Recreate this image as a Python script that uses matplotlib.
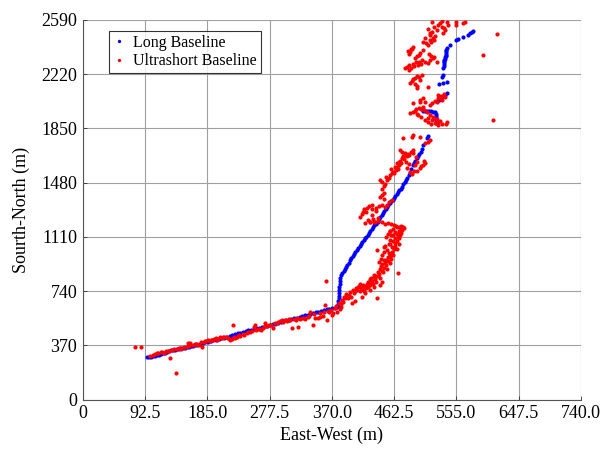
import matplotlib
matplotlib.use("Agg")
import matplotlib.pyplot as plt

plt.rcParams['font.family'] = ['Liberation Serif', 'DejaVu Serif']

# ---- Long Baseline (blue) ----
lbl_x = [95, 98, 101, 104, 107, 110, 113, 116, 119, 122, 125, 128, 131, 134, 137, 140, 143, 146, 149, 152,
         155, 158, 161, 164, 167, 170, 174, 178, 182, 186, 190, 194, 198, 202, 206, 210, 214, 218, 222, 226,
         230, 234, 238, 242, 246, 250, 254, 258, 262, 266, 270, 274, 278, 282, 286, 290, 294, 298, 302, 306,
         310, 314, 318, 322, 326, 330, 334, 338, 342, 346, 350, 354, 358, 362, 366, 370, 374, 378, 381,
         379, 379, 380, 380, 380, 381, 381, 382, 382, 382, 383, 385, 388,
         389, 391, 393, 395, 397, 399, 401, 403, 405, 407, 409, 411, 413, 415, 417, 419, 421, 423, 425, 427,
         429, 431, 433, 436, 438, 440, 442, 444, 446, 448, 450, 452, 454, 456, 458, 460, 462, 464, 466, 468,
         470, 472, 474, 476, 478, 480, 482, 484, 486, 488, 490, 492, 494, 496, 498, 500, 502, 504, 506, 511, 513,
         505, 508, 511, 514, 517, 520, 523, 524, 524, 524, 525, 525,
         526, 529, 532, 535, 538, 541,
         529, 535, 541, 533, 535,
         535, 536, 536, 537, 537, 538, 538, 539, 539, 540, 540, 541, 537, 539,
         545, 555, 557, 564, 572, 575, 578, 580]
lbl_y = [288, 291, 293, 296, 298, 302, 306, 312, 315, 318, 326, 332, 336, 340, 341, 343, 346, 349, 352, 355,
         358, 362, 365, 369, 372, 375, 380, 386, 391, 395, 400, 404, 408, 412, 417, 421, 426, 432, 439, 446,
         452, 456, 462, 467, 472, 477, 482, 487, 491, 495, 499, 504, 509, 514, 519, 525, 530, 535, 540, 545,
         550, 555, 560, 565, 570, 575, 580, 586, 590, 595, 600, 605, 610, 615, 619, 623, 628, 633, 640,
         650, 670, 690, 710, 730, 750, 770, 790, 810, 830, 850, 865, 878,
         892, 905, 920, 935, 950, 965, 980, 995, 1008, 1020, 1035, 1048, 1060, 1074, 1088, 1100, 1112, 1125, 1138, 1150,
         1162, 1175, 1188, 1200, 1215, 1232, 1248, 1262, 1275, 1288, 1300, 1312, 1326, 1340, 1352, 1364, 1376, 1388, 1400, 1414,
         1428, 1440, 1453, 1468, 1484, 1500, 1515, 1530, 1545, 1572, 1598, 1612, 1628, 1645, 1660, 1676, 1692, 1710, 1735, 1783, 1800,
         1968, 1968, 1967, 1966, 1966, 1965, 1964, 1950, 1935, 1920, 1905, 1890,
         2035, 2046, 2058, 2068, 2080, 2092,
         2154, 2160, 2167, 2201, 2215,
         2263, 2275, 2288, 2300, 2312, 2325, 2337, 2350, 2362, 2375, 2388, 2400, 2320, 2345,
         2419, 2453, 2460, 2474, 2490, 2500, 2508, 2515]

# ---- Ultrashort Baseline (red) ----
usbl_x = [78, 86, 100, 104, 108, 112, 116, 120, 124, 128, 130, 133, 136, 139, 140, 143, 146, 150, 154, 156,
          160, 163, 166, 170, 172, 175, 177, 180, 183, 186, 189, 192, 195, 198, 201, 204, 207, 210, 213, 216,
          219, 222, 224, 226, 223, 229, 234, 240, 244, 248, 252, 254, 256, 258, 262, 265, 268, 271, 274, 277,
          280, 282, 285, 290, 293, 296, 300, 303, 306, 311, 314, 318, 320, 323, 326, 330, 334, 338, 342, 345,
          349, 353, 357, 360, 363, 361, 366, 369, 372, 374, 376, 378, 380, 382, 384,
          385, 388, 391, 394, 397, 400, 402, 404, 406, 408, 410, 412, 414, 416, 418, 420, 422, 424, 426, 428,
          430, 432, 434, 436, 437, 438, 440, 442, 444, 446, 448, 450, 452, 454, 456, 458, 460, 455, 448, 445,
          452, 437, 447, 449, 455, 460, 463, 461, 466, 470, 474, 477, 472, 466, 462, 458, 454, 449, 444, 438,
          432, 426, 419, 434, 468, 466, 470, 458, 464, 469, 463, 459, 443, 440, 447, 457, 433, 428, 423, 415,
          419, 426, 441, 444, 473, 475, 471, 465, 456,
          441, 444, 447, 449, 452, 455, 459, 422, 425, 429, 412, 414, 416, 427, 439, 435, 430, 444, 448,
          441, 444, 452, 456, 460, 458, 463, 466, 469, 471, 474, 476, 479, 462, 468, 471, 474, 478, 483, 487,
          491, 489, 492, 494, 496, 501, 505, 508, 476, 489, 491, 501, 508, 512, 516, 481, 486,
          486, 491, 495, 500, 505, 498, 503, 508, 512, 517, 523, 527, 539, 541, 511, 515, 520, 526, 531,
          491, 501, 501, 506, 508, 519, 526, 527, 534, 538, 530, 486, 489, 493, 497, 496, 501, 504, 512,
          481, 485, 490, 495, 500, 504, 479, 493, 497, 501, 500, 515, 520, 522, 526, 512, 486, 489, 491, 483,
          505, 506, 510, 515, 522, 512, 515, 519, 523, 526, 519, 531, 541, 542, 534, 538, 535, 555, 567, 555,
          564, 594, 615, 609]
usbl_y = [356, 356, 300, 304, 312, 318, 322, 321, 330, 334, 283, 338, 345, 181, 348, 352, 345, 356, 362, 386,
          384, 372, 378, 382, 372, 392, 358, 395, 400, 405, 398, 410, 412, 420, 416, 424, 418, 427, 430, 422,
          410, 415, 427, 418, 508, 430, 433, 440, 452, 458, 470, 494, 510, 478, 484, 474, 490, 522, 500, 512,
          506, 488, 520, 530, 536, 540, 545, 534, 550, 488, 548, 556, 495, 552, 560, 548, 563, 597, 508, 560,
          556, 565, 572, 645, 543, 811, 600, 612, 590, 625, 640, 600, 660, 615, 630,
          679, 700, 720, 690, 734, 660, 750, 670, 760, 745, 775, 740, 700, 782, 770, 760, 790, 800, 780, 795,
          810, 770, 820, 800, 693, 840, 860, 830, 880, 870, 900, 920, 890, 945, 930, 960, 985, 1000, 1010, 990,
          1020, 1020, 1041, 1050, 1060, 1080, 1100, 1120, 1130, 1150, 1160, 1170, 1185, 1175, 1190, 1195, 1205, 1200, 1210, 1220,
          1215, 1212, 1205, 1211, 863, 1030, 1060, 1120, 1145, 1105, 1070, 1040, 960, 940, 952, 975, 850, 830, 765, 752,
          725, 745, 780, 800, 1140, 1180, 1125, 1185, 1150,
          1384, 1395, 1409, 1314, 1330, 1345, 1362, 1309, 1320, 1330, 1246, 1265, 1280, 1211, 1239, 1290, 1300, 1440, 1460,
          1498, 1484, 1495, 1532, 1553, 1570, 1590, 1614, 1600, 1630, 1648, 1660, 1669, 1545, 1575, 1703, 1690, 1680, 1675, 1690,
          1700, 1540, 1560, 1600, 1620, 1580, 1600, 1614, 1785, 1792, 1805, 1792, 1751, 1760, 1771, 1580, 1550,
          1955, 1965, 1980, 1990, 1997, 1940, 1925, 1910, 1895, 1880, 1885, 1876, 1880, 1892, 1960, 1945, 1930, 1915, 1900,
          2024, 2031, 2045, 2058, 2031, 2024, 2030, 2079, 2044, 2065, 2055, 2160, 2175, 2195, 2126, 2140, 2181, 2215, 2133,
          2270, 2283, 2290, 2300, 2304, 2317, 2263, 2331, 2345, 2365, 2351, 2317, 2330, 2338, 2300, 2297, 2372, 2390, 2406, 2380,
          2386, 2443, 2433, 2454, 2454, 2529, 2490, 2510, 2480, 2520, 2579, 2568, 2575, 2556, 2545, 2522, 2499, 2579, 2579, 2556,
          2570, 2351, 2492, 1908]

# additional USBL fixes (denser parts of the track)
usbl_extra_x = [110, 118, 126, 145, 158, 168, 182, 190, 200, 208, 215, 232, 238, 246, 260, 270, 288, 298, 308, 316,
                328, 336, 344, 352, 358, 364, 370,
                383, 386, 390, 393, 396, 399, 403, 405, 409, 411, 413, 417, 421, 425, 427, 431, 433, 435, 439, 441,
                443, 445, 449, 451, 453, 456, 459, 462, 464, 467, 468, 471, 473, 469, 460, 457, 453, 450, 456, 457,
                484, 488, 492, 498, 502, 508, 517, 514, 488, 484, 509, 516, 521, 528, 533, 537, 520, 513, 517, 494,
                490, 496, 500, 493, 497, 502, 507, 513, 518, 522, 528, 533, 515, 523, 528, 532, 536,
                449, 451, 455, 459, 465, 467, 470, 473, 477, 481, 485, 490, 495, 497, 503, 507, 480, 484, 447, 445,
                440, 436, 418, 420, 431, 424, 429]
usbl_extra_y = [315, 325, 331, 350, 366, 380, 398, 405, 410, 425, 418, 440, 450, 462, 480, 500, 525, 530, 540, 545,
                555, 570, 585, 590, 598, 605, 580,
                650, 665, 690, 705, 715, 700, 725, 740, 765, 790, 760, 740, 775, 805, 820, 790, 835, 845, 870, 890,
                910, 925, 935, 955, 970, 990, 1010, 1030, 1050, 1085, 1110, 1135, 1165, 1175, 1165, 1150, 1130, 1110, 1090, 1065,
                2250, 2260, 2275, 2285, 2292, 2305, 2345, 2355, 2395, 2360, 2470, 2500, 2540, 2555, 2580, 2535, 2470, 2420, 2440, 2150,
                2185, 2205, 2200, 1970, 1950, 1985, 1975, 1920, 1905, 1920, 1895, 1880, 2010, 2040, 2060, 2072, 2085,
                1470, 1520, 1510, 1545, 1565, 1590, 1620, 1615, 1640, 1660, 1672, 1680, 1655, 1560, 1595, 1625, 1620, 1610, 1370, 1330,
                1320, 1310, 1300, 1280, 1235, 1225, 1260]

x_ticks = [0, 92.5, 185.0, 277.5, 370.0, 462.5, 555.0, 647.5, 740.0]
x_tick_labels = ['0', '92.5', '185.0', '277.5', '370.0', '462.5', '555.0', '647.5', '740.0']
y_ticks = [0, 370, 740, 1110, 1480, 1850, 2220, 2590]

fig = plt.figure(figsize=(6.04, 4.49), dpi=100)
ax = fig.add_axes([0.137, 0.110, 0.825, 0.8455])

ax.plot(lbl_x, lbl_y, linestyle='none', marker='o', markersize=3.0, color='#0000ff',
        markeredgewidth=0, label='Long Baseline', zorder=3)
ax.plot(usbl_x + usbl_extra_x, usbl_y + usbl_extra_y, linestyle='none', marker='o', markersize=3.0,
        color='#ff0000', markeredgewidth=0, label='Ultrashort Baseline', zorder=3)

ax.set_xlim(0, 740)
ax.set_ylim(0, 2590)
ax.set_xticks(x_ticks)
ax.set_xticklabels(x_tick_labels)
ax.set_yticks(y_ticks)
ax.grid(True, color='#a0a0a0', linewidth=0.8, linestyle='-')
ax.set_axisbelow(True)
for s in ['top', 'right']:
    ax.spines[s].set_visible(False)
for s in ['left', 'bottom']:
    ax.spines[s].set_color('#555555')
    ax.spines[s].set_linewidth(0.8)
ax.tick_params(direction='in', length=3, width=0.6, color='#333333', labelsize=13, pad=4)

ax.set_xlabel('East-West (m)', fontsize=13, labelpad=3)
ax.set_ylabel('Sourth-North (m)', fontsize=13, labelpad=8)

leg = ax.legend(loc='upper left', bbox_to_anchor=(0.052, 0.971), borderaxespad=0,
                fontsize=11.5, frameon=True, fancybox=False, handlelength=0.8,
                handletextpad=0.5, borderpad=0.25, labelspacing=0.15, markerscale=0.8)
leg.get_frame().set_edgecolor('#000000')
leg.get_frame().set_linewidth(0.8)

fig.savefig('out.png', dpi=100)
